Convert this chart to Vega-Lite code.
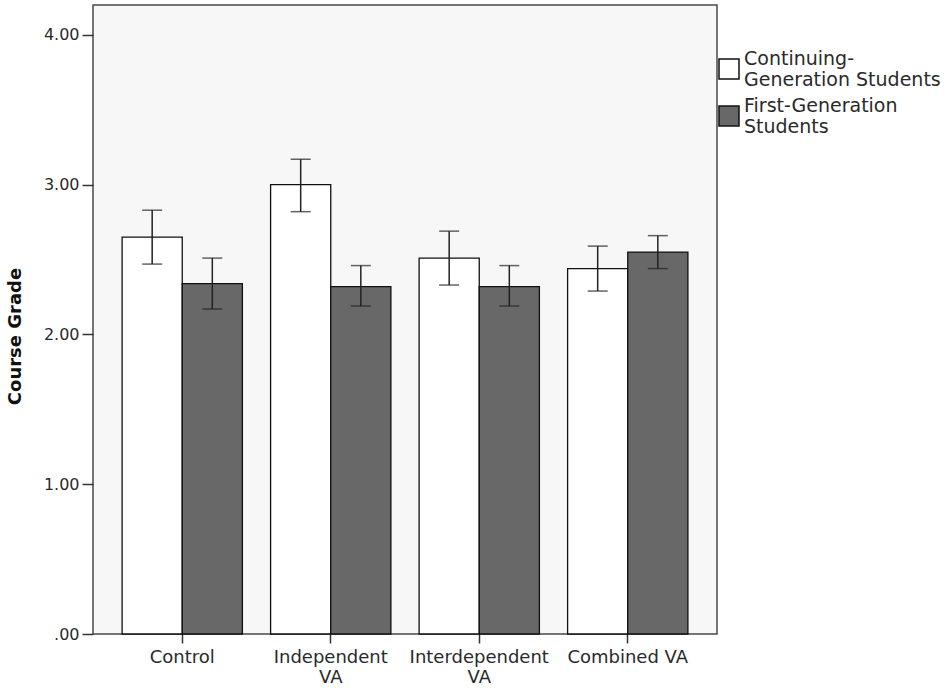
{
  "$schema": "https://vega.github.io/schema/vega-lite/v6.json",
  "autosize": {"type": "none"},
  "padding": {"left": 93, "top": 5, "right": 233, "bottom": 60},
  "width": 624,
  "height": 629,
  "background": "white",
  "config": {
    "font": "DejaVu Sans",
    "view": {"fill": "#f7f7f7", "stroke": "#4a4a4a", "strokeWidth": 1.5}
  },
  "data": {
    "values": [
      {"condition": "Control", "group": "Continuing-Generation Students", "mean": 2.65, "lo": 2.47, "hi": 2.83},
      {"condition": "Control", "group": "First-Generation Students", "mean": 2.34, "lo": 2.17, "hi": 2.51},
      {"condition": "Independent VA", "group": "Continuing-Generation Students", "mean": 3.0, "lo": 2.82, "hi": 3.17},
      {"condition": "Independent VA", "group": "First-Generation Students", "mean": 2.32, "lo": 2.19, "hi": 2.46},
      {"condition": "Interdependent VA", "group": "Continuing-Generation Students", "mean": 2.51, "lo": 2.33, "hi": 2.69},
      {"condition": "Interdependent VA", "group": "First-Generation Students", "mean": 2.32, "lo": 2.19, "hi": 2.46},
      {"condition": "Combined VA", "group": "Continuing-Generation Students", "mean": 2.44, "lo": 2.29, "hi": 2.59},
      {"condition": "Combined VA", "group": "First-Generation Students", "mean": 2.55, "lo": 2.44, "hi": 2.66}
    ]
  },
  "encoding": {
    "x": {
      "field": "condition",
      "type": "nominal",
      "sort": ["Control", "Independent VA", "Interdependent VA", "Combined VA"],
      "scale": {"paddingInner": 0.19, "paddingOuter": 0.196},
      "axis": {
        "title": null,
        "labelAngle": 0,
        "labelFontSize": 18,
        "labelLineHeight": 20,
        "labelColor": "#2a2a2a",
        "labelPadding": 5,
        "labelOverlap": false,
        "tickSize": 9,
        "tickColor": "#333",
        "tickWidth": 1.5,
        "domain": false,
        "labelExpr": "datum.label == 'Independent VA' ? ['Independent', 'VA'] : datum.label == 'Interdependent VA' ? ['Interdependent', 'VA'] : datum.label"
      }
    },
    "xOffset": {
      "field": "group",
      "type": "nominal",
      "sort": ["Continuing-Generation Students", "First-Generation Students"]
    }
  },
  "layer": [
    {
      "mark": {"type": "bar", "stroke": "#111", "strokeWidth": 1.3},
      "encoding": {
        "y": {
          "field": "mean",
          "type": "quantitative",
          "scale": {"domain": [0, 4.2], "nice": false},
          "axis": {
            "title": "Course Grade",
            "titleFontSize": 18,
            "titleFontWeight": "bold",
            "titleColor": "#111",
            "titleX": -87,
            "titleY": 331,
            "titleBaseline": "top",
            "values": [0, 1, 2, 3, 4],
            "labelExpr": "datum.value == 0 ? '.00' : format(datum.value, '.2f')",
            "labelFontSize": 16,
            "labelColor": "#2a2a2a",
            "labelPadding": 3,
            "tickSize": 11,
            "tickColor": "#333",
            "tickWidth": 1.5,
            "grid": false,
            "domain": false
          }
        },
        "fill": {
          "field": "group",
          "type": "nominal",
          "scale": {
            "domain": ["Continuing-Generation Students", "First-Generation Students"],
            "range": ["#ffffff", "#686868"]
          },
          "legend": {
            "title": null,
            "orient": "none",
            "legendX": 625,
            "legendY": 53,
            "symbolType": "square",
            "symbolSize": 400,
            "symbolStrokeColor": "#111",
            "symbolStrokeWidth": 1.5,
            "labelFontSize": 19,
            "labelLineHeight": 21,
            "labelBaseline": "bottom",
            "labelColor": "#2a2a2a",
            "labelLimit": 300,
            "labelOffset": 4,
            "rowPadding": 7,
            "labelExpr": "datum.label == 'Continuing-Generation Students' ? ['Continuing-', 'Generation Students'] : ['First-Generation', 'Students']"
          }
        }
      }
    },
    {
      "mark": {"type": "rule", "color": "#222", "strokeWidth": 1.5},
      "encoding": {
        "y": {"field": "lo", "type": "quantitative"},
        "y2": {"field": "hi"}
      }
    },
    {
      "mark": {"type": "tick", "color": "#222", "thickness": 1.5, "size": 20},
      "encoding": {
        "y": {"field": "lo", "type": "quantitative"}
      }
    },
    {
      "mark": {"type": "tick", "color": "#222", "thickness": 1.5, "size": 20},
      "encoding": {
        "y": {"field": "hi", "type": "quantitative"}
      }
    }
  ]
}
